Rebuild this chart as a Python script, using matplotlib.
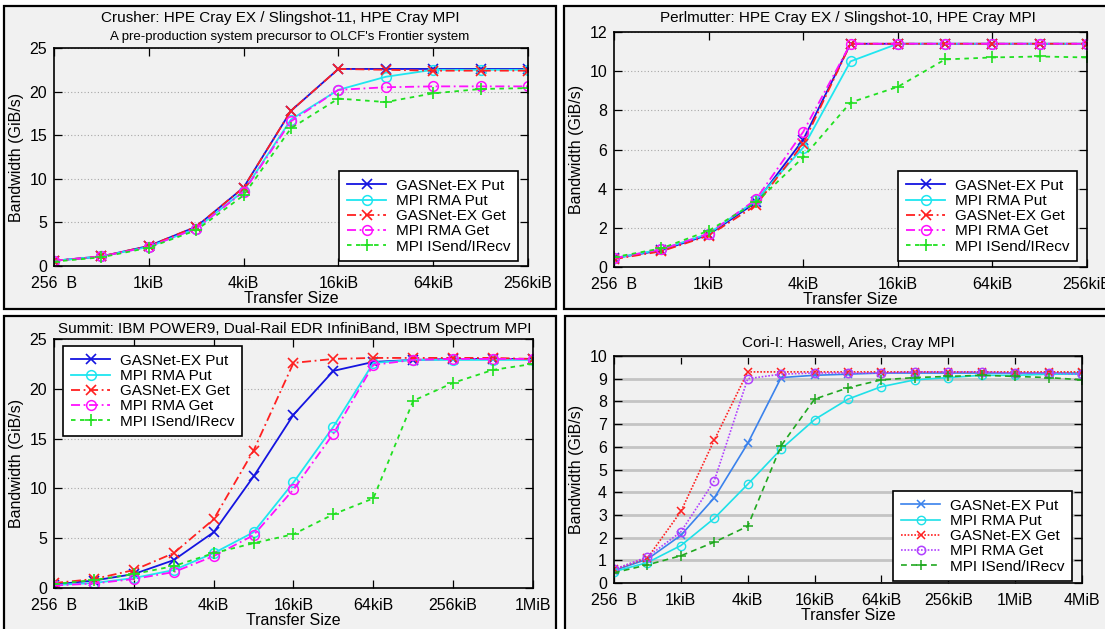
import matplotlib
matplotlib.use("Agg")
import matplotlib.pyplot as plt
from matplotlib.patches import Rectangle

plt.rcParams["font.family"] = ["Liberation Sans", "DejaVu Sans"]

""" ==== DANE ==== """

sizes_256k = [256, 512, 1024, 2048, 4096, 8192, 16384, 32768, 65536, 131072, 262144]
sizes_1m = sizes_256k + [524288, 1048576]
sizes_4m = sizes_1m + [2097152, 4194304]

ticks_256k = [256, 1024, 4096, 16384, 65536, 262144]
labels_256k = ["256  B", "1kiB", "4kiB", "16kiB", "64kiB", "256kiB"]
ticks_1m = ticks_256k + [1048576]
labels_1m = labels_256k + ["1MiB"]
ticks_4m = ticks_1m + [4194304]
labels_4m = labels_1m + ["4MiB"]

series_names = ["GASNet-EX Put", "MPI RMA Put", "GASNet-EX Get", "MPI RMA Get", "MPI ISend/IRecv"]

# Crusher
crusher_gex_put = [0.6, 1.1, 2.3, 4.5, 9.0, 17.8, 22.6, 22.6, 22.6, 22.6, 22.6]
crusher_mpi_put = [0.6, 1.1, 2.2, 4.3, 8.6, 16.8, 20.2, 21.7, 22.5, 22.5, 22.5]
crusher_gex_get = [0.6, 1.1, 2.3, 4.5, 9.0, 17.8, 22.6, 22.5, 22.4, 22.4, 22.4]
crusher_mpi_get = [0.6, 1.1, 2.2, 4.3, 8.5, 16.6, 20.2, 20.5, 20.6, 20.6, 20.6]
crusher_isend = [0.5, 1.0, 2.1, 4.1, 8.1, 15.8, 19.2, 18.8, 19.8, 20.3, 20.4]

# Perlmutter
perl_gex_put = [0.45, 0.85, 1.65, 3.3, 6.5, 11.4, 11.4, 11.4, 11.4, 11.4, 11.4]
perl_mpi_put = [0.45, 0.9, 1.7, 3.4, 6.1, 10.5, 11.4, 11.4, 11.4, 11.4, 11.4]
perl_gex_get = [0.4, 0.8, 1.6, 3.15, 6.3, 11.4, 11.4, 11.4, 11.4, 11.4, 11.4]
perl_mpi_get = [0.45, 0.9, 1.7, 3.45, 6.9, 11.4, 11.4, 11.4, 11.4, 11.4, 11.4]
perl_isend = [0.5, 0.95, 1.85, 3.3, 5.6, 8.4, 9.2, 10.6, 10.7, 10.75, 10.7]

# Summit
summit_gex_put = [0.35, 0.75, 1.4, 2.8, 5.6, 11.2, 17.4, 21.8, 22.7, 22.9, 23.0, 23.0, 23.0]
summit_mpi_put = [0.3, 0.5, 1.0, 1.8, 3.5, 5.6, 10.6, 16.2, 22.6, 22.9, 22.9, 22.9, 22.9]
summit_gex_get = [0.5, 0.9, 1.8, 3.5, 6.9, 13.8, 22.6, 23.0, 23.1, 23.1, 23.1, 23.1, 23.0]
summit_mpi_get = [0.25, 0.45, 0.9, 1.6, 3.2, 5.3, 9.9, 15.5, 22.4, 22.9, 23.0, 23.0, 23.0]
summit_isend = [0.4, 0.8, 1.4, 2.2, 3.5, 4.5, 5.4, 7.4, 9.0, 18.8, 20.6, 21.9, 22.5]

# Cori-I
cori_gex_put = [0.55, 1.05, 2.1, 3.75, 6.15, 9.05, 9.15, 9.2, 9.25, 9.25, 9.25, 9.25, 9.25, 9.25, 9.25]
cori_mpi_put = [0.5, 0.9, 1.65, 2.85, 4.35, 5.9, 7.2, 8.1, 8.65, 8.95, 9.05, 9.15, 9.15, 9.2, 9.2]
cori_gex_get = [0.6, 1.1, 3.15, 6.3, 9.3, 9.3, 9.3, 9.3, 9.3, 9.3, 9.3, 9.3, 9.3, 9.3, 9.3]
cori_mpi_get = [0.6, 1.15, 2.25, 4.5, 9.0, 9.2, 9.25, 9.25, 9.25, 9.3, 9.3, 9.3, 9.25, 9.25, 9.2]
cori_isend = [0.45, 0.8, 1.2, 1.8, 2.5, 6.05, 8.1, 8.6, 8.95, 9.05, 9.1, 9.15, 9.1, 9.05, 8.95]

""" ==== STYL ==== """

W, H = 1105, 629
BG = "#f1f1f1"

style_top = [
    dict(color="#1414e0", ls="-", marker="x", ms=7, mew=1.2),
    dict(color="#1ee6f0", ls="-", marker="o", ms=7, mfc="none", mew=1.1),
    dict(color="#ff2020", ls=(0, (5, 2, 1, 2)), marker="x", ms=7, mew=1.2),
    dict(color="#ff10ff", ls=(0, (5, 2, 1, 2)), marker="o", ms=7, mfc="none", mew=1.1),
    dict(color="#20e020", ls=(0, (2.5, 2.5)), marker="+", ms=8, mew=1.2),
]
style_cori = [
    dict(color="#3a82ec", ls="-", marker="x", ms=5.5, mew=1.1),
    dict(color="#1ee0e8", ls="-", marker="o", ms=6, mfc="none", mew=1.0),
    dict(color="#ff2020", ls=(0, (1, 1)), marker="x", ms=6, mew=1.1),
    dict(color="#b040ff", ls=(0, (1, 1)), marker="o", ms=6, mfc="none", mew=1.1),
    dict(color="#20a820", ls=(0, (3.5, 2.5)), marker="+", ms=7, mew=1.1),
]


def fig_rect(l, t, r, b):
    """Zamiana współrzędnych pikselowych (od góry) na współrzędne figury."""
    return [l / W, 1 - b / H, (r - l) / W, (b - t) / H]


def draw_panel(fig, frame, box, xs, series, styles, ticks, labels, ymax, ystep,
               titles, legend_pos, lw=1.3, solid_grid=False):
    l, t, r, b = frame
    fig.add_artist(Rectangle((l / W, 1 - b / H), (r - l) / W, (b - t) / H,
                             transform=fig.transFigure, facecolor=BG,
                             edgecolor="black", linewidth=1.6, zorder=0))
    ax = fig.add_axes(fig_rect(*box))
    ax.set_facecolor(BG)
    for ys, name, st in zip(series, series_names, styles):
        ax.plot(xs, ys, label=name, lw=lw, **st)
    ax.set_xscale("log", base=2)
    ax.set_xlim(xs[0], xs[-1])
    ax.set_ylim(0, ymax)
    ax.set_xticks(ticks)
    ax.set_xticklabels(labels)
    ax.minorticks_off()
    yt = list(range(0, ymax + 1, ystep))
    ax.set_yticks(yt)
    ax.tick_params(direction="in", top=True, right=True, length=6, width=0.9,
                   labelsize=11.5)
    ax.tick_params(axis="x", pad=7)
    ax.tick_params(axis="y", pad=5)
    for s in ax.spines.values():
        s.set_linewidth(1.2)
    if solid_grid:
        ax.yaxis.grid(True, color="#c4c4c4", lw=2.0, ls="-")
    else:
        ax.yaxis.grid(True, color="#a8a8a8", lw=0.8, ls=(0, (1, 2)))
    ax.set_axisbelow(True)
    ax.set_xlabel("Transfer Size", fontsize=11.5, labelpad=0)
    ax.set_ylabel("Bandwidth (GiB/s)", fontsize=11.5, labelpad=4)
    for txt, x, y, fs in titles:
        fig.text(x / W, 1 - y / H, txt, ha="center", va="center", fontsize=fs)
    lx, ly = legend_pos
    leg = ax.legend(loc="upper left", bbox_to_anchor=(lx / W, 1 - ly / H),
                    bbox_transform=fig.transFigure, borderaxespad=0,
                    fontsize=11, handlelength=2.6, labelspacing=0.08,
                    handletextpad=0.6, borderpad=0.5, fancybox=False,
                    framealpha=1, edgecolor="black", facecolor="white")
    leg.get_frame().set_linewidth(1.2)
    return ax


""" ==== WYKRES ==== """


def main():
    fig = plt.figure(figsize=(W / 100, H / 100), dpi=100)
    fig.patch.set_facecolor("white")

    draw_panel(fig, (4, 6, 556, 309), (54, 48, 528, 266), sizes_256k,
               [crusher_gex_put, crusher_mpi_put, crusher_gex_get, crusher_mpi_get, crusher_isend],
               style_top, ticks_256k, labels_256k, 25, 5,
               [("Crusher: HPE Cray EX / Slingshot-11, HPE Cray MPI", 280, 18, 11),
                ("A pre-production system precursor to OLCF's Frontier system", 290, 37, 9.5)],
               (339, 171))

    draw_panel(fig, (564, 6, 1112, 309), (614, 32, 1087, 267), sizes_256k,
               [perl_gex_put, perl_mpi_put, perl_gex_get, perl_mpi_get, perl_isend],
               style_top, ticks_256k, labels_256k, 12, 2,
               [("Perlmutter: HPE Cray EX / Slingshot-10, HPE Cray MPI", 848, 18, 11)],
               (898, 171))

    draw_panel(fig, (4, 316, 556, 640), (54, 339, 533, 588), sizes_1m,
               [summit_gex_put, summit_mpi_put, summit_gex_get, summit_mpi_get, summit_isend],
               style_top, ticks_1m, labels_1m, 25, 5,
               [("Summit: IBM POWER9, Dual-Rail EDR InfiniBand, IBM Spectrum MPI", 295, 329, 11)],
               (63, 346))

    draw_panel(fig, (565, 316, 1112, 640), (614, 356, 1082, 583), sizes_4m,
               [cori_gex_put, cori_mpi_put, cori_gex_get, cori_mpi_get, cori_isend],
               style_cori, ticks_4m, labels_4m, 10, 1,
               [("Cori-I: Haswell, Aries, Cray MPI", 848, 343, 11)],
               (893, 491), lw=1.2, solid_grid=True)

    fig.savefig("out.png", dpi=100, facecolor="white")


if __name__ == "__main__":
    main()
